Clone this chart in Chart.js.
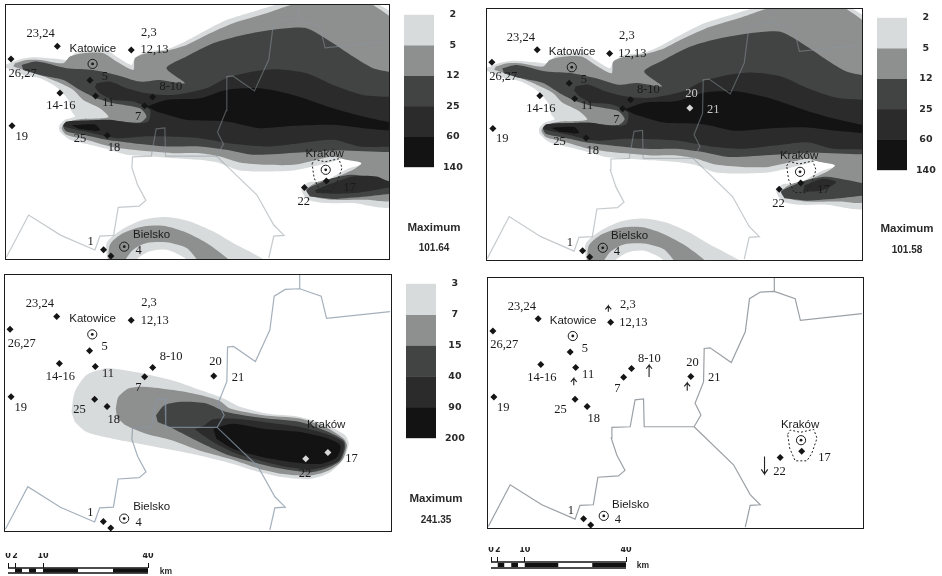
<!DOCTYPE html>
<html><head><meta charset="utf-8">
<script src="https://cdn.jsdelivr.net/npm/chart.js@4/dist/chart.umd.min.js"></script>
<style>
html,body{margin:0;padding:0;background:#fff;width:942px;height:576px;overflow:hidden}
#page{position:relative;width:942px;height:576px;filter:blur(.45px)}
canvas{position:absolute;display:block}
.map{outline:1.5px solid #1c1c1c}
.t{position:absolute;transform:translate(-50%,-50%);color:#2a2a2a;font-family:"Liberation Sans",sans-serif;font-weight:bold;white-space:nowrap}
</style></head><body><div id="page"></div>
<script>
// ---- stations (map units) ----
const stationNames=["23,24","12,13","26,27","5","14-16","11","8-10a","7","25","18","19","22","17","1","b","20"];
const stationX=[172,394,33,270,180,287,458,434,285,322,36,914,980,311,333,640];
const stationY=[139,150,177,241,279,288,291,318,385,407,378,563,544,750,769,316];
const ringNames=["Katowice","Kraków","Bielsko"];
const ringX=[278,978,373];
const ringY=[192,510,741];
const labelText=["23,24","2,3","12,13","Katowice","26,27","5","14-16","11","8-10","7","25","18","19","Kraków","17","22","1","Bielsko","4","20","21"];
const labelX=[122,447,464,279,68,315,183,325,513,415,240,342,65,975,1050,912,272,455,416,645,712];
const labelY=[102,97,150,146,220,230,318,310,260,352,417,445,410,462,563,606,725,706,752,274,320];
// ---- boundary lines ----
const borderMain=[[19,773],[86,646],[183,707],[285,751],[300,709],[341,707],[355,623],[418,619],[438,602],[413,555],[396,504],[398,471],[454,469],[469,387],[495,384],[497,469],[650,469],[671,433],[653,397],[679,332],[681,230],[699,228],[764,273],[807,179],[820,78],[853,58],[896,56],[960,78],[976,144],[1165,124]];
const borderNorth=[[896,56],[896,15]];
const borderSouth=[[650,469],[771,585],[822,676],[853,707],[822,709],[807,775]];
const krakowOutline=[[937,492],[945,479],[976,486],[1017,477],[1027,504],[1011,550],[996,573],[960,573],[943,534],[937,492]];
// ---- arrows (panel 4) ----
const arrowShafts=[[387,118,100],[512,317,281],[281,342,321],[629,359,335]];
const arrowDown=[866,560,613];
// ---- contours, panels 1 and 2 ----
const c1Band1=[[-10,197],[22,192],[60,178],[100,172],[160,176],[205,180],[225,160],[270,150],[320,150],[350,170],[395,195],[405,175],[440,155],[500,148],[545,130],[610,95],[680,60],[760,35],[830,14],[900,0],[1100,0],[1135,12],[1200,60],[1215,200],[1215,560],[1175,622],[1120,620],[1060,610],[980,610],[925,600],[905,570],[925,548],[975,545],[1010,525],[1050,505],[1090,492],[1040,475],[1000,485],[940,500],[880,512],[800,515],[720,512],[660,490],[600,480],[520,475],[450,470],[380,465],[330,450],[270,435],[210,420],[180,395],[178,378],[195,360],[225,350],[215,335],[205,300],[170,262],[120,235],[70,225],[22,205],[-10,203]];
const c1Band2=[[45,190],[80,180],[120,180],[190,190],[210,170],[250,160],[310,160],[350,185],[400,210],[405,175],[440,160],[510,150],[560,135],[620,105],[700,70],[800,40],[870,16],[930,0],[1090,0],[1125,18],[1190,70],[1215,200],[1215,540],[1175,602],[1100,600],[1000,600],[940,590],[920,570],[950,548],[1000,535],[1060,510],[1085,490],[1040,480],[1000,470],[960,478],[880,495],[800,495],[720,488],[660,470],[600,460],[520,460],[400,450],[330,440],[260,420],[200,405],[185,385],[195,370],[240,358],[325,352],[300,325],[250,300],[220,270],[170,245],[120,225],[70,210],[40,200]];
const c1Band3=[[65,195],[110,185],[200,205],[280,210],[350,225],[420,245],[480,240],[555,250],[500,205],[560,170],[640,130],[730,105],[830,88],[920,85],[1000,130],[1060,170],[1120,205],[1175,217],[1215,225],[1215,455],[1175,457],[1020,452],[900,458],[760,465],[680,450],[600,440],[500,440],[400,430],[320,420],[250,405],[200,395],[190,378],[210,365],[330,362],[420,368],[440,350],[420,325],[340,310],[290,295],[240,270],[190,240],[120,225],[70,210]];
const c1Band4=[[290,250],[330,245],[380,265],[440,280],[520,285],[620,265],[680,235],[760,215],[830,208],[920,220],[1000,255],[1090,285],[1175,291],[1215,292],[1215,440],[1175,441],[1080,440],[1000,420],[900,430],[800,440],[700,432],[600,415],[500,410],[430,410],[350,415],[270,398],[210,385],[190,378],[200,365],[260,362],[330,360],[400,370],[445,365],[450,330],[400,305],[340,300],[300,280],[285,262]];
const c1Band5=[[440,320],[500,300],[600,295],[680,270],[780,265],[880,285],[1000,325],[1090,350],[1175,368],[1215,370],[1215,392],[1175,392],[1090,385],[1000,375],[880,378],[780,385],[680,365],[560,360],[470,335]];
const c1LobeDark=[[215,376],[285,374],[300,392],[240,388]];
const c1Plume3=[[930,590],[920,570],[960,550],[1000,535],[1060,525],[1175,545],[1215,548],[1215,578],[1175,582],[1100,590],[1000,598]];
const c1Plume4=[[945,572],[985,555],[1060,530],[1130,530],[1175,548],[1215,550],[1215,560],[1175,562],[1080,578],[1000,582],[950,580]];
const c2Plume4=[[992,551],[1048,531],[1089,541],[1048,566],[987,571]];
const cSouthBand1=[[325,800],[320,730],[365,690],[430,660],[500,652],[570,665],[640,695],[700,730],[790,778],[810,800],[565,800],[555,775],[500,750],[450,755],[412,778],[405,800]];
const cSouthBand2=[[325,800],[330,735],[370,700],[430,680],[490,678],[550,695],[620,730],[685,778],[700,800],[600,800],[590,778],[560,745],[500,728],[440,730],[400,750],[378,778],[370,800]];
// ---- contours, panel 3 ----
const c3Band1=[[216,423],[226,363],[261,313],[321,293],[371,298],[451,313],[530,333],[600,358],[669,383],[719,408],[798,428],[897,438],[977,463],[1032,493],[1042,518],[1027,563],[987,603],[927,623],[847,618],[777,603],[697,578],[597,553],[497,533],[418,518],[339,503],[261,483],[226,453]];
const c3Band2=[[348,413],[356,378],[386,353],[431,348],[520,358],[600,373],[659,391],[689,413],[788,433],[897,443],[982,473],[1027,503],[1037,523],[1022,568],[982,598],[927,613],[847,608],[777,593],[687,563],[597,538],[517,508],[438,488],[378,463],[351,438]];
const c3Band3=[[468,433],[493,403],[548,393],[618,398],[677,423],[787,441],[897,453],[982,483],[1027,508],[1032,528],[1017,568],[977,591],[927,603],[847,593],[777,578],[687,553],[618,523],[558,493],[498,463],[473,453]];
const c3Band4=[[613,463],[638,445],[697,443],[787,453],[897,468],[982,491],[1025,513],[1027,533],[1012,568],[972,586],[927,595],[847,585],[777,568],[697,543],[638,513],[583,475]];
const c3Band5=[[638,473],[697,458],[787,473],[897,483],[982,503],[1017,523],[1007,558],[957,578],[877,573],[787,558],[697,533],[648,503]];
// ---- legends ----
const legendTop=["2","5","12","25","60","140"];
const legendBottom=["3","7","15","40","90","200"];
const maxima=["101.64","101.58","241.35"];
const shades=["#d8dbdc","#8e9090","#424443","#2a2b2a","#131313"];
const kmTicks=[0,2,10,40];
const kmSegments=[0,2,4,6,8,10,20,30,40];

const page=document.getElementById('page');
function mk(left,top,w,h,cls){const c=document.createElement('canvas');c.width=w;c.height=h;
 c.style.cssText=`left:${left}px;top:${top}px;width:${w}px;height:${h}px`;if(cls)c.className=cls;page.appendChild(c);return c.getContext('2d');}
function txt(s,x,y,size){const d=document.createElement('div');d.className='t';d.textContent=s;d.style.left=x+'px';d.style.top=y+'px';d.style.fontSize=size+'px';page.appendChild(d);}
const pts=a=>a.map(p=>({x:p[0],y:p[1]}));
const poly=(a,c)=>({data:pts(a),showLine:true,fill:'shape',backgroundColor:c,borderWidth:0,borderColor:c,pointRadius:0,tension:.25});
const lineDs=(a,c,w,dash)=>({data:pts(a),showLine:true,fill:false,borderColor:c,borderWidth:w,borderDash:dash||[],pointRadius:0,tension:0});

function mapPanel(rect,cfg){
 const ds=[];
 (cfg.polys||[]).forEach(p=>ds.push(poly(p[0],shades[p[1]])));
 ds.push(lineDs(borderMain,cfg.lineCol,1.2));
 ds.push(lineDs(borderNorth,cfg.lineCol,1.2));
 ds.push(lineDs(borderSouth,cfg.lineCol,1.2));
 if(cfg.outline) ds.push(lineDs(krakowOutline,'#222',1,[2,2]));
 (cfg.arrows?arrowShafts:[]).forEach(s=>{
   ds.push(lineDs([[s[0],s[1]],[s[0],s[2]],[s[0]-9,s[2]+11],[s[0],s[2]],[s[0]+9,s[2]+11]],'#222',1.1));
 });
 if(cfg.arrows){const d=arrowDown;ds.push(lineDs([[d[0],d[1]],[d[0],d[2]],[d[0]-10,d[2]-14],[d[0],d[2]],[d[0]+10,d[2]-14]],'#222',1.1));}
 const sd=[],sc=[];
 stationNames.forEach((n,i)=>{if(cfg.skip&&cfg.skip.includes(n))return;sd.push({x:stationX[i],y:stationY[i]});sc.push(cfg.light&&cfg.light.includes(n)?'#d8d8d8':'#151515');});
 ds.push({data:sd,showLine:false,pointStyle:'rectRot',pointRadius:3.5,pointBackgroundColor:sc,pointBorderWidth:0});
 const rd=ringNames.map((n,i)=>({x:ringX[i],y:ringY[i]})).filter((p,i)=>!(cfg.skipRing&&cfg.skipRing.includes(ringNames[i])));
 ds.push({data:rd,showLine:false,pointStyle:'circle',pointRadius:4.6,pointBackgroundColor:'rgba(255,255,255,0)',pointBorderColor:'#1a1a1a',pointBorderWidth:1});
 ds.push({data:rd,showLine:false,pointStyle:'circle',pointRadius:1.4,pointBackgroundColor:'#1a1a1a',pointBorderWidth:0});
 ds.forEach((d,i)=>d.order=ds.length-i);
 const labels={id:'stationLabels',afterDatasetsDraw(ch){const g=ch.ctx;g.save();g.textAlign='center';g.textBaseline='middle';
   labelText.forEach((t,i)=>{if(cfg.skipLabel&&cfg.skipLabel.includes(t))return;
     const sans=/[a-z]/.test(t);
     g.font=sans?'11.5px "Liberation Sans"':'12.5px "Liberation Serif"';
     g.fillStyle=(cfg.lightLabel&&cfg.lightLabel.includes(t))?'#c8c8c8':'#1a1a1a';
     g.fillText(t,ch.scales.x.getPixelForValue(labelX[i]),ch.scales.y.getPixelForValue(labelY[i]));});
   g.restore();}};
 new Chart(mk(rect[0],rect[1],rect[2],rect[3],'map'),{type:'scatter',data:{datasets:ds},plugins:[labels],options:{
   responsive:false,animation:false,events:[],layout:{padding:0,autoPadding:false},
   plugins:{legend:{display:false},tooltip:{enabled:false}},
   scales:{x:{type:'linear',min:18,max:1168,display:false},y:{type:'linear',min:15,max:778,reverse:true,display:false}}}});
}
function colorbar(left,top,barH,labels,maxVal,mx,my1,my2){
 const pad=15;
 const ds=shades.map((c,i)=>({data:[1],backgroundColor:c,stack:'s',barPercentage:1,categoryPercentage:1,borderWidth:0}));
 new Chart(mk(left,top-pad,62,barH+2*pad),{type:'bar',data:{labels:[''],datasets:ds},options:{
  responsive:false,animation:false,events:[],layout:{padding:{top:1,bottom:1},autoPadding:false},
  plugins:{legend:{display:false},tooltip:{enabled:false}},
  scales:{x:{stacked:true,display:false},
   y:{stacked:true,reverse:true,min:0,max:5,position:'right',afterFit(s){s.width=32;},
     border:{display:false},grid:{display:false,drawTicks:false},
     ticks:{stepSize:1,crossAlign:'center',padding:9,color:'#2a2a2a',font:{family:'"DejaVu Sans"',size:9.5,weight:'bold'},callback:(v)=>labels[v]}}}}});
 txt('Maximum',mx,my1,11.5);txt(maxVal,mx,my2,10);
}
function kmBar(left,top,w,padL,padR,padB){
 const ds=[];
 kmSegments.slice(0,-1).forEach((s,i)=>{ds.push({data:[{x:s,y:.5},{x:kmSegments[i+1],y:.5}],showLine:true,borderColor:i%2?'#111':'#fff',borderWidth:4,pointRadius:0});});
 ds.push({data:[{x:0,y:1},{x:40,y:1}],showLine:true,borderColor:'#111',borderWidth:1.4,pointRadius:0});
 ds.push({data:[{x:0,y:0},{x:40,y:0}],showLine:true,borderColor:'#111',borderWidth:1.4,pointRadius:0});
 ds.forEach((d,i)=>{d.order=ds.length-i;d.clip=false;});
 new Chart(mk(left,top,w,32),{type:'scatter',data:{datasets:ds},options:{
  responsive:false,animation:false,events:[],layout:{padding:{left:padL,right:padR,top:2,bottom:padB},autoPadding:false},
  plugins:{legend:{display:false},tooltip:{enabled:false}},
  scales:{x:{type:'linear',position:'top',min:0,max:40,afterBuildTicks(s){s.ticks=kmTicks.map(v=>({value:v}));},afterFit(s){s.height=15;},
     border:{display:false},grid:{drawOnChartArea:false,drawTicks:true,tickLength:5,color:'#111'},
     ticks:{autoSkip:false,maxRotation:0,padding:2,color:'#222',font:{family:'"DejaVu Sans"',size:8,weight:'bold'}}},
   y:{min:0,max:1,display:false}}}});
}
const baseP=[[c1Band1,0],[cSouthBand1,0],[c1Band2,1],[cSouthBand2,1],[c1Band3,2],[c1Plume3,2],[c1Band4,3]];
mapPanel([6,5,383,254],{polys:[...baseP,[c1Plume4,3],[c1Band5,4],[c1LobeDark,4]],lineCol:'rgba(140,150,155,.5)',outline:true,skip:["20"],skipLabel:["20","21"]});
mapPanel([487,9,375,251],{polys:[...baseP,[c2Plume4,3],[c1Band5,4],[c1LobeDark,4]],lineCol:'rgba(140,150,155,.5)',outline:true,light:["20"],lightLabel:["20","21"]});
mapPanel([5,275,386,256],{polys:[[c3Band1,0],[c3Band2,1],[c3Band3,2],[c3Band4,3],[c3Band5,4]],lineCol:'rgba(135,150,165,.75)',light:["22","17"],skipRing:["Kraków"]});
mapPanel([488,278,375,250],{polys:[],lineCol:'rgba(150,155,160,.95)',outline:true,arrows:true});
colorbar(404,15,152,legendTop,maxima[0],434,227,247);
colorbar(877,18,152,legendTop,maxima[1],907,228,249);
colorbar(406,284,154,legendBottom,maxima[2],436,498,519);
kmBar(0,551,175,8,27,10);
kmBar(483,545,160,8,17,9);
txt('km',166,571,8.5);txt('km',643,565,8.5);
</script></body></html>
